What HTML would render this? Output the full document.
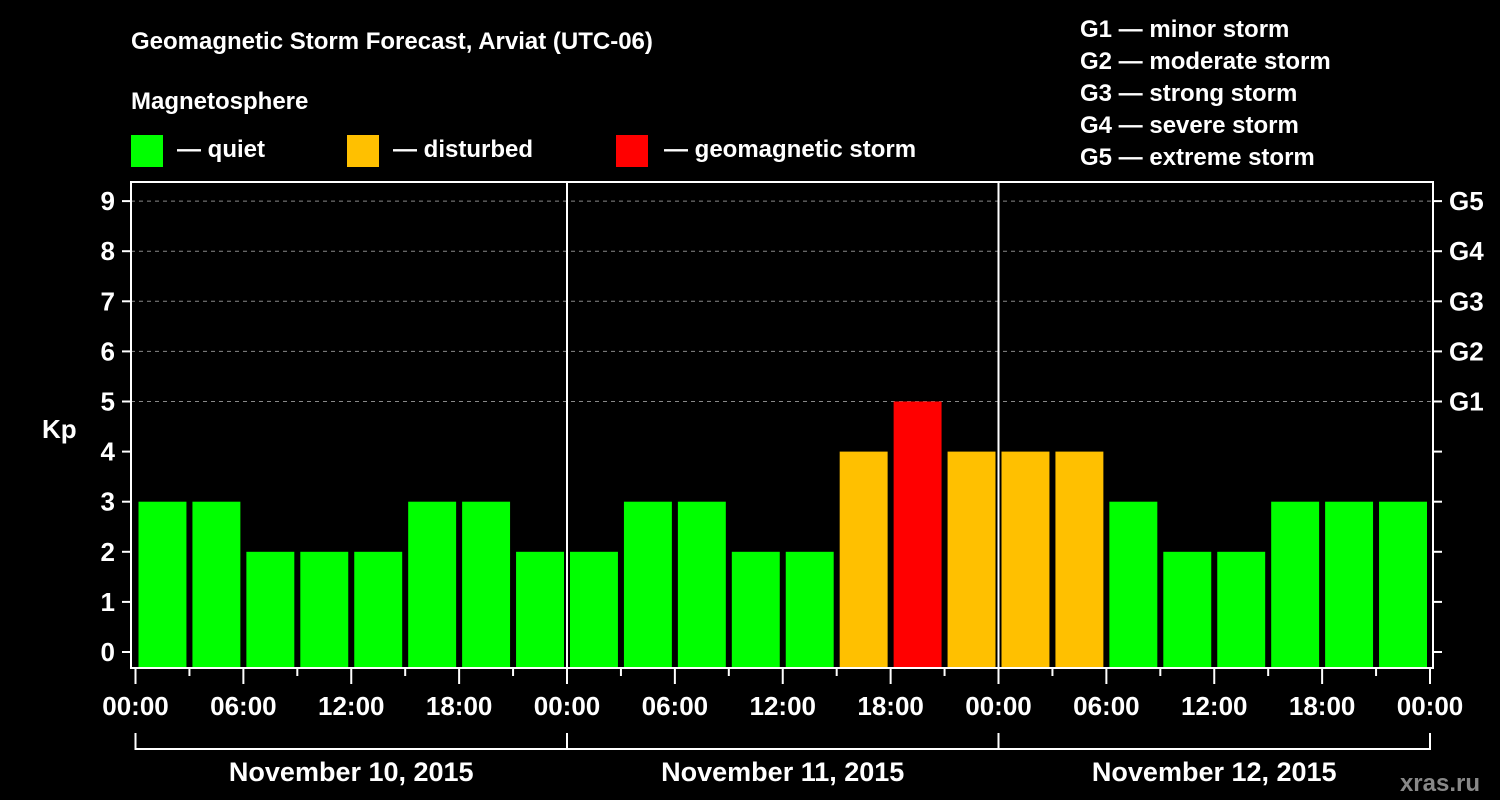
<!DOCTYPE html>
<html><head><meta charset="utf-8"><style>
html,body{margin:0;padding:0;background:#000;}
svg{display:block;font-family:"Liberation Sans",Arial,sans-serif;font-weight:bold;}
</style></head><body>
<svg id="chart" width="1500" height="800" viewBox="0 0 1500 800">
<rect width="1500" height="800" fill="#000"/>
<text x="131" y="49" fill="#fff" font-size="24">Geomagnetic Storm Forecast, Arviat (UTC-06)</text>
<text x="131" y="109" fill="#fff" font-size="24">Magnetosphere</text>
<g><rect x="131" y="135" width="32" height="32" fill="#00ff00"/><text x="177" y="157" fill="#fff" font-size="24">— quiet</text></g>
<g><rect x="347" y="135" width="32" height="32" fill="#ffc000"/><text x="393" y="157" fill="#fff" font-size="24">— disturbed</text></g>
<g><rect x="616" y="135" width="32" height="32" fill="#ff0000"/><text x="664" y="157" fill="#fff" font-size="24">— geomagnetic storm</text></g>
<g fill="#fff" font-size="24">
<text x="1080" y="37">G1 — minor storm</text>
<text x="1080" y="69">G2 — moderate storm</text>
<text x="1080" y="101">G3 — strong storm</text>
<text x="1080" y="133">G4 — severe storm</text>
<text x="1080" y="165">G5 — extreme storm</text>
</g>
<text x="42" y="438" fill="#fff" font-size="26">Kp</text>
<text x="1480" y="791" fill="#888" font-size="24" text-anchor="end">xras.ru</text>
<g id="plot"></g>
</svg>
<script>
const days = ["November 10, 2015","November 11, 2015","November 12, 2015"];
const kpValues = [3,3,2,2,2,3,3,2, 2,3,3,2,2,4,5,4, 4,4,3,2,2,3,3,3];
const yTicks = [0,1,2,3,4,5,6,7,8,9];
const gLabels = ["G1","G2","G3","G4","G5"];
const gLevels = [5,6,7,8,9];
const xLabels = ["00:00","06:00","12:00","18:00"];

const NS="http://www.w3.org/2000/svg";
const plot=document.getElementById('plot');
const L=131,R=1433,T=182,B=668,X0=135.5,DAYW=431.5;
const y=v=>652-v*50.1;
const slot=DAYW/8;
const x=i=>X0+i*slot;
function mk(tag,attrs,parent){const e=document.createElementNS(NS,tag);for(const k in attrs)e.setAttribute(k,attrs[k]);(parent||plot).appendChild(e);return e;}

// gridlines
gLevels.forEach(v=>{
  const l=mk('line',{x1:L,x2:R,y1:y(v),y2:y(v),stroke:'#888','stroke-dasharray':'4,4','stroke-width':1});
  
  
});
// bars
kpValues.forEach((v,i)=>{
  const c=v>=5?'#ff0000':(v>=4?'#ffc000':'#00ff00');
  const r=mk('rect',{x:x(i)+3,y:y(v),width:slot-6,height:B-y(v)-1,fill:c});
  
  
});
// day separators
for(let d=1;d<days.length;d++){
  const l=mk('line',{x1:x(d*8),x2:x(d*8),y1:T,y2:B,stroke:'#fff','stroke-width':2});
  
  
}
// frame
const fr=mk('rect',{x:L,y:T,width:R-L,height:B-T,fill:'none',stroke:'#fff','stroke-width':2});


// y ticks
yTicks.forEach(v=>{
  mk('line',{x1:L-9,x2:L,y1:y(v),y2:y(v),stroke:'#fff','stroke-width':2});
  mk('line',{x1:R,x2:R+9,y1:y(v),y2:y(v),stroke:'#fff','stroke-width':2});
  const t=mk('text',{x:115,y:y(v)+9,fill:'#fff','font-size':26,'text-anchor':'end'});
  t.textContent=v;
  
  
});
gLevels.forEach((v,i)=>{
  const t=mk('text',{x:1449,y:y(v)+9,fill:'#fff','font-size':26});
  t.textContent=gLabels[i];
  
  
});
// x ticks
for(let i=0;i<=kpValues.length;i++){
  const major=i%2===0;
  mk('line',{x1:x(i),x2:x(i),y1:B,y2:B+(major?16:8),stroke:'#fff','stroke-width':2});
}
for(let d=0;d<=days.length;d++){
  const n=d<days.length?xLabels.length:1;
  for(let j=0;j<n;j++){
    const t=mk('text',{x:x(d*8+j*2),y:715,fill:'#fff','font-size':26,'text-anchor':'middle'});
    t.textContent=xLabels[j];
    
    
  }
}
// day brackets
mk('line',{x1:x(0),x2:x(24),y1:749,y2:749,stroke:'#fff','stroke-width':2});
for(let d=0;d<=days.length;d++) mk('line',{x1:x(d*8),x2:x(d*8),y1:733,y2:750,stroke:'#fff','stroke-width':2});
days.forEach((s,d)=>{
  const t=mk('text',{x:x(d*8+4),y:781,fill:'#fff','font-size':27,'text-anchor':'middle'});
  t.textContent=s;
  
  
});
</script>
</body></html>
